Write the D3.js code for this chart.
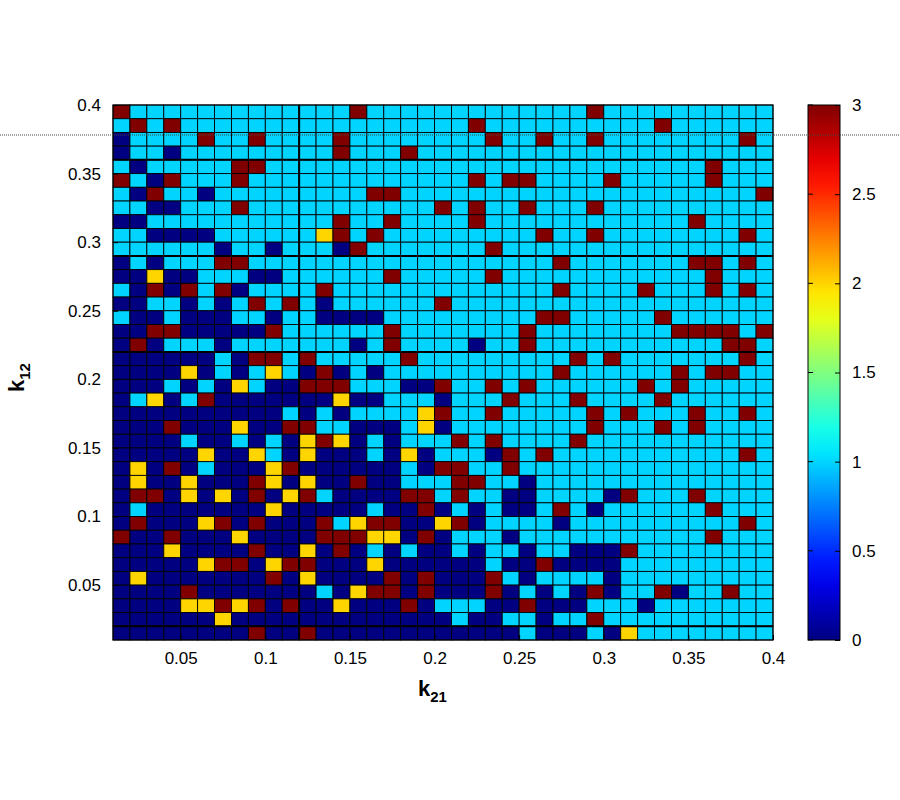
<!DOCTYPE html>
<html>
<head>
<meta charset="utf-8">
<script src="https://cdn.jsdelivr.net/npm/d3@7"></script>
<style>
  body { margin: 0; background: #fff; }
  text { font-family: "Liberation Sans", Arial, sans-serif; }
</style>
</head>
<body>
<div id="chart"></div>
<script>
// k12 rows from 0.40 (top) down to 0.01, k21 columns 0.01..0.40
// 0 = dark blue, 1 = cyan, 2 = yellow, 3 = dark red
var rows = [
  "31111111111111311111" + "1111111131111111111",
  "13131111111111111111" + "1311111111113111111",
  "01111311311113111111" + "1131131131111111131",
  "01101111111113111311" + "1111111111111111111",
  "10111113311111111111" + "1111111111111113111",
  "31031113111111111111" + "1313311113111113111",
  "10311011111111133111" + "1111111111111111113",
  "11001113111111111113" + "1311311131111111111",
  "00111111111113113111" + "1311111111111131111",
  "11000011111123131111" + "1111131131111111131",
  "11111101101110311111" + "1131111111111111111",
  "01011133111111111111" + "1111113111111133131",
  "00200111001111113111" + "1131111111111113111",
  "10303130111131111111" + "1111113111131113131",
  "00110101313101111113" + "1111111111111111111",
  "10010001101100001111" + "1111133111113111111",
  "00330000031111113111" + "1111311111111333313",
  "03011101111111013111" + "1011311111111111331",
  "00000010331311111311" + "1111111313111111131",
  "00002010121030101111" + "1111113111111313311",
  "00010102100333111003" + "1131311111131311111",
  "01201300000002001110" + "1113111311113111111",
  "00000000001010111123" + "1131111131311131131",
  "00030002003311000120" + "1111111131113131111",
  "00001001010232010111" + "3131111311111111111",
  "00000200210200010201" + "1103131111111111131",
  "02030100023000000103" + "3113111111111111111",
  "02002000320200300111" + "3311011111111111111",
  "03302020302310000331" + "3110011110311131111",
  "01000000020000010030" + "1010013101111113111",
  "03000230300031233002" + "3011110111111111131",
  "30030002000033322030" + "1110111111111113111",
  "00020000300203010100" + "1011011000311111111",
  "00000233023300020000" + "0010030000111111111",
  "02000000030200003030" + "0031011110111111111",
  "00003000000010233030" + "0030101030113011311",
  "00002232303002000301" + "1100300011101111111",
  "00000020000000000000" + "1001101131111111111",
  "00000000300300000000" + "0000100010211111111"
];
var xTicks = [0.05, 0.1, 0.15, 0.2, 0.25, 0.3, 0.35, 0.4];
var yTicks = [0.05, 0.1, 0.15, 0.2, 0.25, 0.3, 0.35, 0.4];
var cbTicks = [0, 0.5, 1, 1.5, 2, 2.5, 3];
var heavyRows = [4, 11, 18, 38];   // darker grid lines seen in the picture
var heavyCols = [11];

var cells = [];
rows.forEach(function(r, i) {
  for (var j = 0; j < r.length; j++) {
    cells.push({k21: 0.01 + j * 0.01, k12: 0.40 - (i + 1) * 0.01, v: +r[j]});
  }
});

var svg = d3.select("#chart").append("svg").attr("width", 900).attr("height", 800);

var x = d3.scaleLinear().domain([0.01, 0.4]).range([113, 773]);
var y = d3.scaleLinear().domain([0.01, 0.4]).range([640, 105]);

// jet colormap
function jet(t) {
  function c(v) { return Math.max(0, Math.min(1, v)); }
  var r = c(Math.min(4 * t - 1.5, -4 * t + 4.5));
  var g = c(Math.min(4 * t - 0.5, -4 * t + 3.5));
  var b = c(Math.min(4 * t + 0.5, -4 * t + 2.5));
  return d3.rgb(r * 255, g * 255, b * 255);
}
var color = function(v) { return jet(v / 3); };

svg.append("g").selectAll("rect").data(cells).enter().append("rect")
  .attr("x", function(d) { return x(d.k21); })
  .attr("y", function(d) { return y(d.k12 + 0.01); })
  .attr("width", x(0.02) - x(0.01))
  .attr("height", y(0.01) - y(0.02))
  .attr("fill", function(d) { return color(d.v); })
  .attr("stroke", "#000").attr("stroke-width", 0.9);

svg.append("g").selectAll("line").data(heavyRows).enter().append("line")
  .attr("x1", 113).attr("x2", 773)
  .attr("y1", function(d) { return y(0.40 - d * 0.01); })
  .attr("y2", function(d) { return y(0.40 - d * 0.01); })
  .attr("stroke", "#000").attr("stroke-width", 2);
svg.append("g").selectAll("line").data(heavyCols).enter().append("line")
  .attr("y1", 105).attr("y2", 640)
  .attr("x1", function(d) { return x(0.01 + d * 0.01); })
  .attr("x2", function(d) { return x(0.01 + d * 0.01); })
  .attr("stroke", "#000").attr("stroke-width", 2);

// axes
var fmt = function(d) { return String(d); };
var xa = svg.append("g").attr("transform", "translate(0,640)")
  .call(d3.axisBottom(x).tickValues(xTicks).tickFormat(fmt).tickSizeInner(-5).tickSizeOuter(0).tickPadding(12));
var ya = svg.append("g").attr("transform", "translate(113,0)")
  .call(d3.axisLeft(y).tickValues(yTicks).tickFormat(fmt).tickSizeInner(-5).tickSizeOuter(0).tickPadding(12));
[xa, ya].forEach(function(a) {
  a.select(".domain").remove();
  a.selectAll("text").attr("font-size", 17).attr("fill", "#000");
});
svg.append("rect").attr("x", 113).attr("y", 105).attr("width", 660).attr("height", 535)
  .attr("fill", "none").attr("stroke", "#000").attr("stroke-width", 1);

// axis titles
var xt = svg.append("text").attr("x", 418).attr("y", 696).attr("font-size", 22).attr("font-weight", "bold");
xt.append("tspan").text("k");
xt.append("tspan").attr("font-size", 15).attr("dy", 6).text("21");
var yt = svg.append("text").attr("transform", "translate(24,392) rotate(-90)")
  .attr("font-size", 22).attr("font-weight", "bold");
yt.append("tspan").text("k");
yt.append("tspan").attr("font-size", 15).attr("dy", 6).text("12");

// colorbar
var cb = d3.scaleLinear().domain([0, 3]).range([640, 105]);
var defs = svg.append("defs");
var grad = defs.append("linearGradient").attr("id", "jet")
  .attr("x1", 0).attr("y1", 1).attr("x2", 0).attr("y2", 0);
d3.range(0, 1.0001, 0.05).forEach(function(t) {
  grad.append("stop").attr("offset", t).attr("stop-color", jet(t));
});
svg.append("rect").attr("x", 808).attr("y", 105).attr("width", 32).attr("height", 535)
  .attr("fill", "url(#jet)").attr("stroke", "#000");
var ca = svg.append("g").attr("transform", "translate(840,0)")
  .call(d3.axisRight(cb).tickValues(cbTicks).tickFormat(fmt).tickSizeInner(-5).tickSizeOuter(0).tickPadding(12));
ca.select(".domain").remove();
ca.selectAll("text").attr("font-size", 17).attr("fill", "#000");
svg.append("g").selectAll("line").data(cbTicks).enter().append("line")
  .attr("x1", 808).attr("x2", 813)
  .attr("y1", function(d) { return cb(d); }).attr("y2", function(d) { return cb(d); })
  .attr("stroke", "#000");

// dotted guide line across the page
svg.append("line").attr("x1", 0).attr("x2", 900).attr("y1", 135).attr("y2", 135)
  .attr("stroke", "#444").attr("stroke-width", 1).attr("stroke-dasharray", "1,1");
</script>
</body>
</html>
